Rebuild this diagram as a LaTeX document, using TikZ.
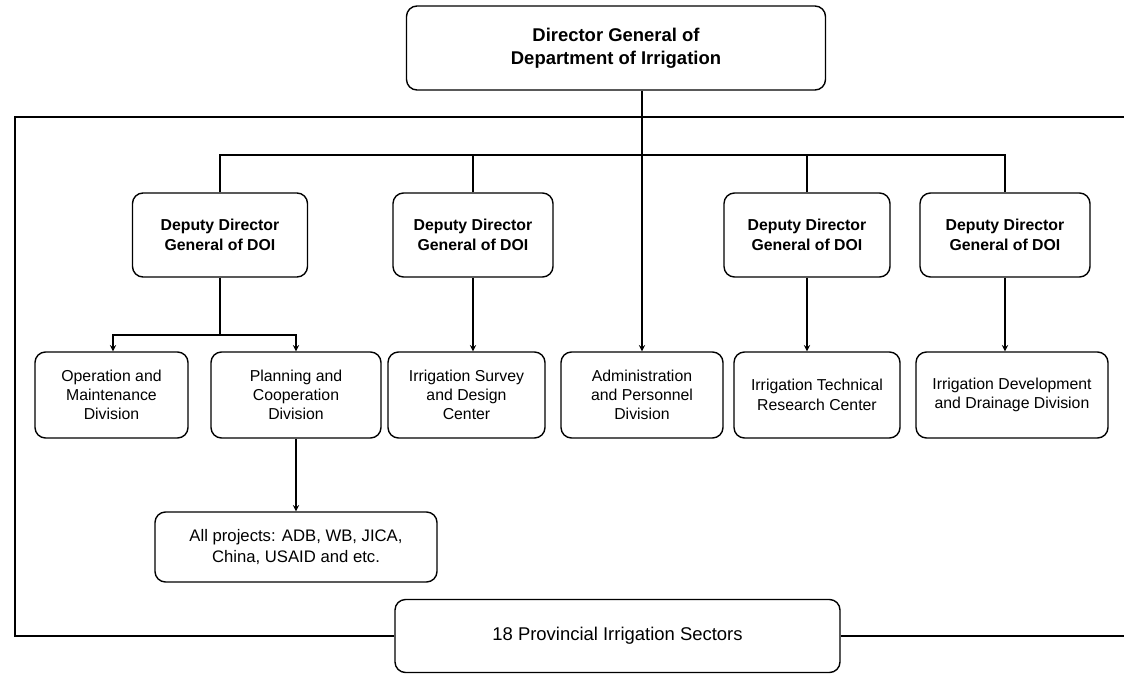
\documentclass[tikz,border=0pt]{standalone}
\usepackage{fontspec}
\setmainfont{Liberation Sans}
\usetikzlibrary{arrows, positioning, calc}

\begin{document}
\begin{tikzpicture}[
    box/.style={rectangle, rounded corners=6pt, draw=black, thick, align=center, inner sep=2pt},
    top/.style={box, minimum width=8.38cm, minimum height=1.68cm, font=\fontsize{10.5}{13}\selectfont\bfseries},
    deputy/.style={box, minimum height=1.68cm, font=\fontsize{9}{11}\selectfont\bfseries},
    unit/.style={box, minimum height=1.72cm, font=\fontsize{9}{11}\selectfont},
    line/.style={semithick},
    arrow/.style={semithick,->,>=stealth}
]
    \useasboundingbox (0,0) rectangle (22.48,-13.54);

    % director general and provincial sectors
    \node (dg) [top] at (12.32,-0.96) {Director General of\\Department of Irrigation};
    \node (sec) [box, minimum width=8.9cm, minimum height=1.46cm, font=\fontsize{10.5}{13}\selectfont] at (12.35,-12.72) {18 Provincial Irrigation Sectors};

    % deputy directors
    \node (dep1) [deputy, minimum width=3.5cm] at (4.4,-4.7) {Deputy Director\\General of DOI};
    \node (dep2) [deputy, minimum width=3.2cm] at (9.46,-4.7) {Deputy Director\\General of DOI};
    \node (dep3) [deputy, minimum width=3.32cm] at (16.14,-4.7) {Deputy Director\\General of DOI};
    \node (dep4) [deputy, minimum width=3.4cm] at (20.1,-4.7) {Deputy Director\\General of DOI};

    % divisions and centers
    \node (om) [unit, minimum width=3.06cm] at (2.23,-7.9) {Operation and\\Maintenance\\Division};
    \node (pln) [unit, minimum width=3.4cm] at (5.92,-7.9) {Planning and\\Cooperation\\Division};
    \node (srv) [unit, minimum width=3.14cm] at (9.33,-7.9) {Irrigation Survey\\and Design\\Center};
    \node (adm) [unit, minimum width=3.24cm] at (12.84,-7.9) {Administration\\and Personnel\\Division};
    \node (tech) [unit, minimum width=3.32cm] at (16.34,-7.9) {Irrigation Technical\\Research Center};
    \node (dev) [unit, minimum width=3.84cm] at (20.24,-7.9) {Irrigation Development\\and Drainage Division};

    \node (prj) [box, minimum width=5.64cm, minimum height=1.4cm, font=\fontsize{9.5}{12}\selectfont] at (5.92,-10.94) {All projects: ADB, WB, JICA,\\China, USAID and etc.};

    % frame around the department
    \coordinate (fbl) at (0.3,-12.72);
    \coordinate (ftl) at (0.3,-2.34);
    \coordinate (ftr) at (22.48,-2.34);
    \coordinate (fbr) at (22.48,-12.72);
    \draw [line] (sec.west) -- (fbl) -- (ftl) -- (ftr);
    \draw [line] (sec.east) -- (fbr);

    % bus to deputies
    \coordinate (bus) at (12.84,-3.1);
    \draw [line] (dep1.north) -- (dep1.north |- bus) -- (dep4.north |- bus) -- (dep4.north);
    \draw [line] (dep2.north) -- (dep2.north |- bus);
    \draw [line] (dep3.north) -- (dep3.north |- bus);
    \draw [arrow] (dg.south -| adm.north) -- (adm.north);

    % deputy to units
    \coordinate (split) at (4.4,-6.7);
    \draw [line] (dep1.south) -- (split);
    \draw [arrow] (split) -| ($(om.north)+(0.03,0)$);
    \draw [arrow] (split) -| (pln.north);
    \draw [arrow] (dep2.south) -- (dep2.south |- srv.north);
    \draw [arrow] (dep3.south) -- (dep3.south |- tech.north);
    \draw [arrow] (dep4.south) -- (dep4.south |- dev.north);
    \draw [arrow] (pln.south) -- (prj.north);
\end{tikzpicture}
\end{document}
